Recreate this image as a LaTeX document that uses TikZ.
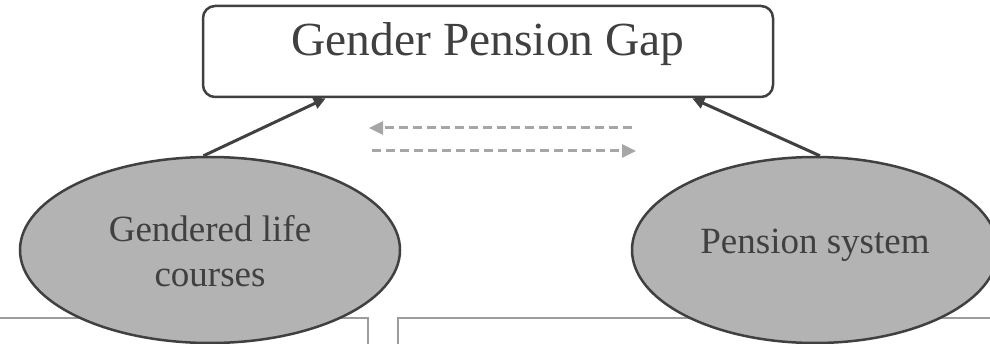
\documentclass[tikz,border=0pt]{standalone}
\usepackage{fontspec}
\setmainfont{Liberation Serif}
\usetikzlibrary{shapes.geometric,arrows.meta,calc}

\definecolor{ink}{HTML}{404040}
\definecolor{bubble}{HTML}{B3B3B3}
\definecolor{flow}{HTML}{A6A6A6}
\definecolor{frame}{HTML}{9C9C9C}

\tikzset{
  gapbox/.style={draw=ink, line width=2.5pt, rounded corners=12pt, fill=white,
    inner sep=0pt, minimum width=570pt, minimum height=91pt, text=ink,
    font=\fontsize{47.5}{57}\selectfont, text height=1.0em, text depth=0.22em},
  factor/.style={ellipse, draw=ink, fill=bubble, line width=2.5pt, inner sep=0pt,
    minimum height=186pt, text=ink, align=center,
    font=\fontsize{37}{45}\selectfont},
  cause/.style={draw=ink, line width=3pt, -{Triangle[length=12pt,width=11pt]}},
  interplay/.style={draw=flow, line width=3pt, dash pattern=on 9pt off 5pt,
    -{Triangle[length=14pt,width=13pt]}},
  panel/.style={draw=frame, line width=2pt}
}

\begin{document}
\begin{tikzpicture}[x=1pt, y=-1pt]
  \useasboundingbox (0,0) rectangle (990,344);
  \clip (0,0) rectangle (990,344);

  % lower panels, partly covered by the two factors
  \draw[panel] (-5,318.5) rectangle (368,380);
  \draw[panel] (398,318.5) rectangle (1000,380);

  % outcome and its two drivers
  \node[gapbox] (gpg) at (488,51.5) {Gender Pension Gap};
  \node[factor, minimum width=380pt, text height=74pt, text depth=0pt]
    (glc) at (210,250) {Gendered life\\courses};
  \node[factor, minimum width=366pt, text height=0.9em, text depth=0.2em]
    (pen) at (815,250) {Pension system};

  % influences on the gap
  \draw[cause] (glc.94) -- ($(gpg.south west)+(124,0)$);
  \draw[cause] (pen.87) -- ($(gpg.south east)+(-82,0)$);

  % mutual interplay between the drivers
  \coordinate (upR) at (632,128);
  \coordinate (upL) at (369,128);
  \coordinate (loL) at (372,151);
  \coordinate (loR) at (636,151);
  \draw[interplay] (upR) -- (upL);
  \draw[interplay] (loL) -- (loR);
\end{tikzpicture}
\end{document}
